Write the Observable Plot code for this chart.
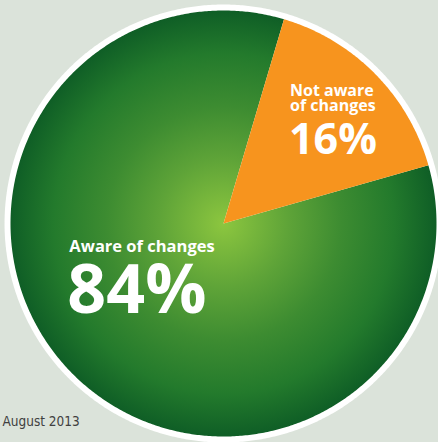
<!DOCTYPE html>
<html>
<head>
<meta charset="utf-8">
<script src="https://cdn.jsdelivr.net/npm/d3@7"></script>
<script src="https://cdn.jsdelivr.net/npm/@observablehq/plot@0.6"></script>
<style>
  html, body { margin: 0; padding: 0; background: #dbe3da; }
  #chart { width: 438px; height: 442px; }
</style>
</head>
<body>
<div id="chart"></div>
<script>
// ---- data ----
const categories = ["Not aware of changes", "Aware of changes"];
const labelLines = [["Not aware", "of changes"], ["Aware of changes"]];
const values = [16, 84];
const caption = "August 2013";

// ---- layout (not data) ----
const W = 438, H = 442;
const cx = 223, cy = 223, R = 213;          // pixel centre / radius of the pie
const ringR = 1.028;                         // white outer ring (in pie radii)
const midOrange = 45.3 * Math.PI / 180;      // orange slice centred here (clockwise from 12 o'clock)

const slices = categories.map((c, i) => ({category: c, value: values[i], lines: labelLines[i], i}));
const start = midOrange - Math.PI * values[0] / d3.sum(values);
const pie = d3.pie().sort(null).value(d => d.value).startAngle(start).endAngle(start + 2 * Math.PI);
const arcs = pie(slices);

// polygon outline of each slice (unit radius), sampled along the arc
function slicePoly(a, r = 1) {
  const n = Math.max(2, Math.ceil((a.endAngle - a.startAngle) / (Math.PI / 360)));
  const pts = [{x: 0, y: 0}];
  for (let j = 0; j <= n; j++) {
    const t = a.startAngle + (a.endAngle - a.startAngle) * j / n;
    pts.push({x: r * Math.sin(t), y: r * Math.cos(t)});
  }
  return pts;
}
function circlePoly(r) {
  const pts = [];
  for (let j = 0; j < 720; j++) {
    const t = 2 * Math.PI * j / 720;
    pts.push({x: r * Math.sin(t), y: r * Math.cos(t)});
  }
  return pts;
}
const orangeArc = arcs[0], greenArc = arcs[1];
const mid = a => (a.startAngle + a.endAngle) / 2;
// label anchor at a slice's mid-angle, shifted by pixel offsets (converted to pie units)
const anchor = (a, rho, dxPx, dyPx) => ({
  x: rho * Math.sin(mid(a)) + dxPx / R,
  y: rho * Math.cos(mid(a)) - dyPx / R,
  d: a.data
});

const font = "'Open Sans', 'Noto Sans', sans-serif";
const txt = {x: "x", y: "y", textAnchor: "start", lineAnchor: "bottom", fill: "white", fontWeight: 700, fontFamily: font};

const chart = Plot.plot({
  width: W, height: H,
  margin: 0,
  x: {domain: [(0 - cx) / R, (W - cx) / R], axis: null},
  y: {domain: [(cy - H) / R, cy / R], axis: null},
  style: {background: "#dbe3da", overflow: "visible"},
  marks: [
    // white ring
    Plot.line(circlePoly(ringR), {x: "x", y: "y", curve: "linear-closed", fill: "white", stroke: "none"}),
    // green slice (radial gradient)
    Plot.line(slicePoly(greenArc), {x: "x", y: "y", curve: "linear-closed", fill: "url(#greenGrad)", stroke: "none"}),
    // orange slice
    Plot.line(slicePoly(orangeArc), {x: "x", y: "y", curve: "linear-closed", fill: "#f7941e", stroke: "none"}),
    // orange labels
    Plot.text([anchor(orangeArc, 0.71, -41, -6)], {...txt, text: d => d.d.lines.join("\n"), fontSize: 16, lineHeight: 0.95}),
    Plot.text([anchor(orangeArc, 0.71, -42, 37)], {...txt, text: d => d.d.value + "%", fontSize: 43}),
    // green labels
    Plot.text([anchor(greenArc, 0.45, -86, -39)], {...txt, text: d => d.d.lines[0], fontSize: 16.5}),
    Plot.text([anchor(greenArc, 0.45, -88, 22)], {...txt, text: d => d.d.value + "%", fontSize: 68}),
    // caption
    Plot.text([caption], {frameAnchor: "bottom-left", text: d => d, textAnchor: "start", lineAnchor: "bottom",
      dx: 2, dy: -17, fill: "#404040", fontSize: 13.5,
      fontFamily: "'Liberation Sans Narrow', 'DejaVu Sans Condensed', sans-serif"})
  ]
});

// radial gradient definition for the green slice
const defs = d3.select(chart).insert("defs", ":first-child");
const g = defs.append("radialGradient").attr("id", "greenGrad")
  .attr("gradientUnits", "objectBoundingBox")
  .attr("cx", 0.5).attr("cy", 0.5).attr("r", 0.5);
[[0, "#8cc63f"], [0.3, "#5fa438"], [0.55, "#3d8c31"], [0.8, "#237a2c"], [1, "#0f5e26"]]
  .forEach(([o, c]) => g.append("stop").attr("offset", o).attr("stop-color", c));

document.getElementById("chart").appendChild(chart);
</script>
</body>
</html>
